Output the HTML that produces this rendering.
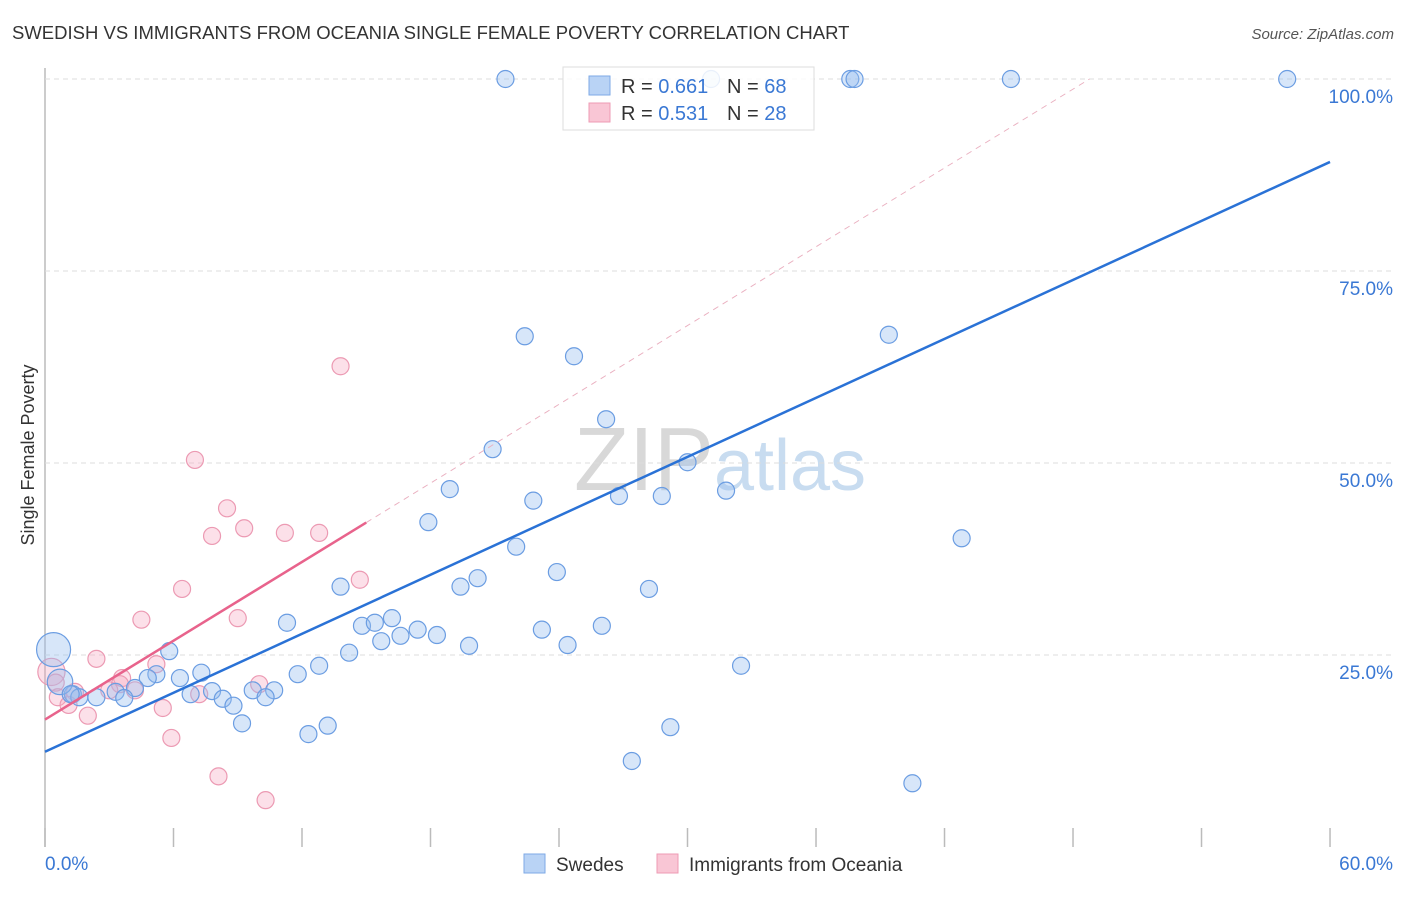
<!DOCTYPE html>
<html><head><meta charset="utf-8"><style>
body{margin:0;background:#fff;font-family:"Liberation Sans",sans-serif}
svg text{font-family:"Liberation Sans",sans-serif}
</style></head><body>
<svg id="c" width="1406" height="892">
<text x="12" y="39" font-size="18.5" fill="#333">SWEDISH VS IMMIGRANTS FROM OCEANIA SINGLE FEMALE POVERTY CORRELATION CHART</text>
<text x="1394" y="39" font-size="15" fill="#555" text-anchor="end" font-style="italic">Source: ZipAtlas.com</text>
<text x="720" y="490" font-size="90" fill="#ddd" text-anchor="middle" font-family="Liberation Serif"><tspan fill="#d8d8d8">ZIP</tspan><tspan fill="#c8dcf0" font-family="Liberation Sans" font-size="72">atlas</tspan></text>
<text transform="translate(34,455) rotate(-90)" font-size="18" fill="#333" text-anchor="middle">Single Female Poverty</text>
<g id="grid"></g><g id="pts"></g><g id="lines"></g>
<g>
<rect x="563" y="67" width="251" height="63" fill="#fff" fill-opacity="0.85" stroke="#ddd"/>
<rect x="589" y="76" width="21" height="19" fill="#b9d3f5" stroke="#7ea9e6"/>
<rect x="589" y="103" width="21" height="19" fill="#f9c6d5" stroke="#ee9bb4"/>
<text x="621" y="93" font-size="20" fill="#333">R = <tspan fill="#3a78d4">0.661</tspan></text>
<text x="727" y="93" font-size="20" fill="#333">N = <tspan fill="#3a78d4">68</tspan></text>
<text x="621" y="120" font-size="20" fill="#333">R = <tspan fill="#3a78d4">0.531</tspan></text>
<text x="727" y="120" font-size="20" fill="#333">N = <tspan fill="#3a78d4">28</tspan></text>
</g>
<g>
<rect x="524" y="854" width="21" height="19" fill="#b9d3f5" stroke="#7ea9e6"/>
<text x="556" y="871" font-size="19" fill="#333">Swedes</text>
<rect x="657" y="854" width="21" height="19" fill="#f9c6d5" stroke="#ee9bb4"/>
<text x="689" y="871" font-size="19" fill="#333">Immigrants from Oceania</text>
</g>
</svg>
<script>
const yTicks=[25,50,75,100];
const xTickLabels=["0.0%","60.0%"];
const blueX=[21.5,31.1,37.6,37.8,45.1,58.0,22.4,24.7,39.4,26.2,20.9,30.0,18.9,26.8,28.8,31.8,22.8,17.9,42.8,22.0,23.9,20.2,19.4,13.8,28.2,11.3,14.8,15.4,16.2,17.4,16.6,18.3,15.7,23.2,26.0,19.8,24.4,14.2,32.5,12.8,11.8,5.8,5.2,4.8,7.3,6.3,7.8,9.7,10.7,4.2,6.8,3.3,1.3,2.4,1.6,3.7,10.3,8.3,8.8,9.2,13.2,12.3,29.2,27.4,40.5,0.4,0.7,1.2];
const blueY=[100,100,100,100,100,100,66.5,63.9,66.7,55.7,51.8,50.1,46.6,45.7,45.7,46.4,45.1,42.3,40.2,39.1,35.8,35.0,33.9,33.9,33.6,29.2,28.8,29.2,29.8,28.3,27.5,27.6,26.8,28.3,28.8,26.2,26.3,25.3,23.6,23.6,22.5,25.5,22.5,22.0,22.7,22.0,20.3,20.4,20.4,20.7,19.9,20.2,19.9,19.5,19.5,19.4,19.5,19.3,18.4,16.1,15.8,14.7,15.6,11.2,8.3,25.7,21.5,19.9];
const blueSize=[1,1,1,1,1,1,1,1,1,1,1,1,1,1,1,1,1,1,1,1,1,1,1,1,1,1,1,1,1,1,1,1,1,1,1,1,1,1,1,1,1,1,1,1,1,1,1,1,1,1,1,1,1,1,1,1,1,1,1,1,1,1,1,1,1,2,1.5,1];
const pinkX=[13.8,7.0,8.5,7.8,9.3,11.2,12.8,14.7,6.4,4.5,9.0,2.4,5.2,3.6,3.5,0.3,0.5,1.4,4.2,7.2,10.0,0.6,1.1,5.5,2.0,5.9,8.1,10.3,3.0];
const pinkY=[62.6,50.4,44.1,40.5,41.5,40.9,40.9,34.8,33.6,29.6,29.8,24.5,23.8,22.0,21.2,22.8,21.4,20.2,20.4,19.9,21.2,19.5,18.5,18.1,17.1,14.2,9.2,6.1,20.4];
const pinkSize=[1,1,1,1,1,1,1,1,1,1,1,1,1,1,1,1.6,1,1,1,1,1,1,1,1,1,1,1,1,1];
const blueTrend=[12.4,89.2];
const pinkTrend=[16.6,1.71];
const pinkSolidEnd=15.0;
const NS="http://www.w3.org/2000/svg";
const X=v=>45+v*21.417, Y=v=>847-v*7.68;
function mk(t,a,p){const e=document.createElementNS(NS,t);for(const k in a)e.setAttribute(k,a[k]);p.appendChild(e);return e;}
const grid=document.getElementById('grid'),pts=document.getElementById('pts'),lines=document.getElementById('lines');
mk('line',{x1:45,y1:68,x2:45,y2:847,stroke:'#bbb','stroke-width':1.5},grid);
yTicks.forEach(t=>{
 const l=mk('line',{x1:45,x2:1393,y1:Y(t),y2:Y(t),stroke:'#ddd','stroke-dasharray':'5,4'},grid);
 
 
 const tx=mk('text',{x:1393,y:Y(t)+24,'font-size':19,fill:'#3a78d4','text-anchor':'end'},grid);
 tx.textContent=t.toFixed(1)+'%';
 
 
});
for(let i=0;i<=10;i++){
 const t=mk('line',{x1:X(i*6),x2:X(i*6),y1:828,y2:847,stroke:'#bbb','stroke-width':1.5},grid);
 
 
}
[[0,'start'],[60,'end']].forEach((p,i)=>{
 const tx=mk('text',{x:i?1393:45,y:870,'font-size':19,fill:'#3a78d4','text-anchor':p[1]},grid);
 tx.textContent=xTickLabels[i];
 
 
});
pinkX.forEach((x,i)=>{
 const c=mk('circle',{cx:X(x),cy:Y(pinkY[i]),r:8.5*pinkSize[i],fill:'rgba(245,165,192,0.35)',stroke:'#ec9ab3','stroke-width':1.2},pts);
 
 
});
blueX.forEach((x,i)=>{
 const c=mk('circle',{cx:X(x),cy:Y(blueY[i]),r:8.5*blueSize[i],fill:'rgba(150,190,240,0.38)',stroke:'#6b9de2','stroke-width':1.2},pts);
 
 
});
const pxEnd=(100-pinkTrend[0])/pinkTrend[1];
const d=mk('line',{x1:X(pinkSolidEnd),y1:Y(pinkTrend[0]+pinkTrend[1]*pinkSolidEnd),x2:X(pxEnd),y2:Y(100),stroke:'#eab0c0','stroke-dasharray':'6,5','stroke-width':1},lines);


const pl=mk('line',{x1:X(0),y1:Y(pinkTrend[0]),x2:X(pinkSolidEnd),y2:Y(pinkTrend[0]+pinkTrend[1]*pinkSolidEnd),stroke:'#e8638c','stroke-width':2.5},lines);


const bl=mk('line',{x1:X(0),y1:Y(blueTrend[0]),x2:X(60),y2:Y(blueTrend[1]),stroke:'#2a72d6','stroke-width':2.5},lines);


</script>
</body></html>
